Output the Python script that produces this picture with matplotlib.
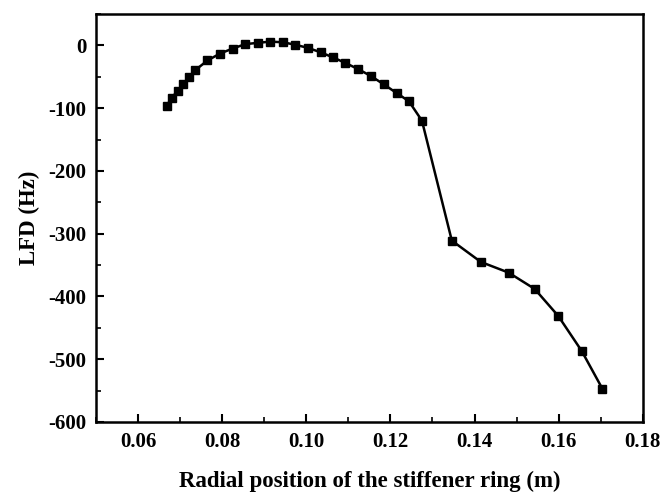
import matplotlib
matplotlib.use("Agg")
import matplotlib.pyplot as plt
from matplotlib.ticker import MultipleLocator

# radial position of the stiffener ring (m)
radius = [0.0668, 0.0680, 0.0694, 0.0708, 0.0721, 0.0735, 0.0765, 0.0795,
          0.0825, 0.0855, 0.0884, 0.0914, 0.0944, 0.0974, 0.1004, 0.1034,
          0.1063, 0.1093, 0.1124, 0.1154, 0.1184, 0.1215, 0.1244, 0.1275,
          0.1346, 0.1415, 0.1481, 0.1543, 0.1599, 0.1655, 0.1704]
# LFD (Hz)
lfd = [-96, -84, -72, -61, -51, -40, -24, -13,
       -5, 2, 4, 6, 5, 1, -4, -11,
       -19, -28, -38, -49, -62, -76, -89, -120,
       -311, -345, -362, -388, -431, -487, -547]

x_ticks = [0.06, 0.08, 0.10, 0.12, 0.14, 0.16, 0.18]
y_ticks = [0, -100, -200, -300, -400, -500, -600]

plt.rcParams['font.family'] = ['Liberation Serif', 'DejaVu Serif']
plt.rcParams['font.weight'] = 'bold'
plt.rcParams['axes.unicode_minus'] = False

fig = plt.figure(figsize=(6.64, 5.0), dpi=100)
ax = fig.add_axes([0.1446, 0.156, 0.8234, 0.816])

ax.plot(radius, lfd, color='black', lw=1.8, marker='s', markersize=5.5)

ax.set_xlim(0.05, 0.18)
ax.set_ylim(-600, 50)
ax.set_xticks(x_ticks)
ax.set_xticklabels([f"{v:.2f}" for v in x_ticks])
ax.set_yticks(y_ticks)
ax.xaxis.set_minor_locator(MultipleLocator(0.01))
ax.yaxis.set_minor_locator(MultipleLocator(50))

ax.tick_params(which='major', direction='in', length=6, width=1.5, labelsize=15, pad=7)
ax.tick_params(which='minor', direction='in', length=3.5, width=1.2)
for s in ax.spines.values():
    s.set_linewidth(1.8)

ax.set_xlabel('Radial position of the stiffener ring (m)', fontsize=16.5, fontweight='bold', labelpad=14)
ax.set_ylabel('LFD (Hz)', fontsize=16.5, fontweight='bold', labelpad=6)

fig.savefig('out.png', dpi=100)
